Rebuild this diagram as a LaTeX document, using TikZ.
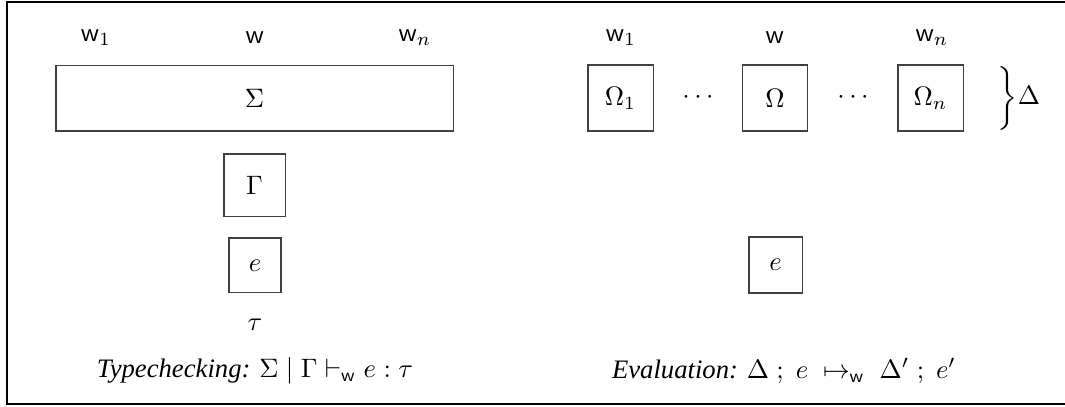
\documentclass[tikz,border=0pt]{standalone}
\usepackage[no-math]{fontspec}
\setmainfont{Liberation Serif}
\tikzset{
  box/.style={draw=black!75, line width=0.4pt, inner sep=0pt},
  lbl/.style={inner sep=0pt},
  frame/.style={line width=0.75pt}
}
\begin{document}
\begin{tikzpicture}[x=0.375pt,y=-0.375pt]
\useasboundingbox (0,0) rectangle (1065,407);
% frame (open on right)
\coordinate (ftr) at (1065,2);
\coordinate (ftl) at (7,2);
\coordinate (fbl) at (7,404);
\coordinate (fbr) at (1065,404);
\draw[frame] (ftr) -- (ftl) -- (fbl) -- (fbr);
% left: typechecking
\node[lbl] (lw1) at (96,38) {$\mathsf{w}_1$};
\node[lbl] (lw) at (255,38) {$\mathsf{w}$};
\node[lbl] (lwn) at (415,38) {$\mathsf{w}_n$};
\node[box, minimum width=148.9pt, minimum height=24.4pt] (sigma) at (254.5,98.5) {$\Sigma$};
\node[box, minimum width=22.9pt, minimum height=23.6pt] (gamma) at (254.5,185.5) {$\Gamma$};
\node[box, minimum width=19.5pt, minimum height=20.6pt] (le) at (255,265.5) {$e$};
\node[lbl] (tau) at (255,325) {$\tau$};
\node[lbl] (tcap) at (255,371) {\textit{Typechecking:} $\Sigma \mid \Gamma \vdash_{\mathsf{w}} e : \tau$};
% right: evaluation
\node[lbl] (rw1) at (621,38) {$\mathsf{w}_1$};
\node[lbl] (rw) at (775,38) {$\mathsf{w}$};
\node[lbl] (rwn) at (932,38) {$\mathsf{w}_n$};
\node[box, minimum width=24.4pt, minimum height=24.75pt] (om1) at (620.5,98) {$\Omega_1$};
\node[lbl] (d1) at (698,98) {$\cdots$};
\node[box, minimum width=24.4pt, minimum height=24.75pt] (om) at (775,98) {$\Omega$};
\node[lbl] (d2) at (853,98) {$\cdots$};
\node[box, minimum width=24.4pt, minimum height=24.75pt] (omn) at (930.5,98) {$\Omega_n$};
\node[lbl, anchor=west] (delta) at (994,98) {$\left.\vrule height 13pt depth 8pt width 0pt\right\}\!\Delta$};
\node[box, minimum width=19.9pt, minimum height=21pt] (re) at (775.5,265) {$e$};
\node[lbl] (ecap) at (784,371) {\textit{Evaluation:} $\Delta\;;\;e\;\mapsto_{\mathsf{w}}\;\Delta'\;;\;e'$};
\end{tikzpicture}
\end{document}
